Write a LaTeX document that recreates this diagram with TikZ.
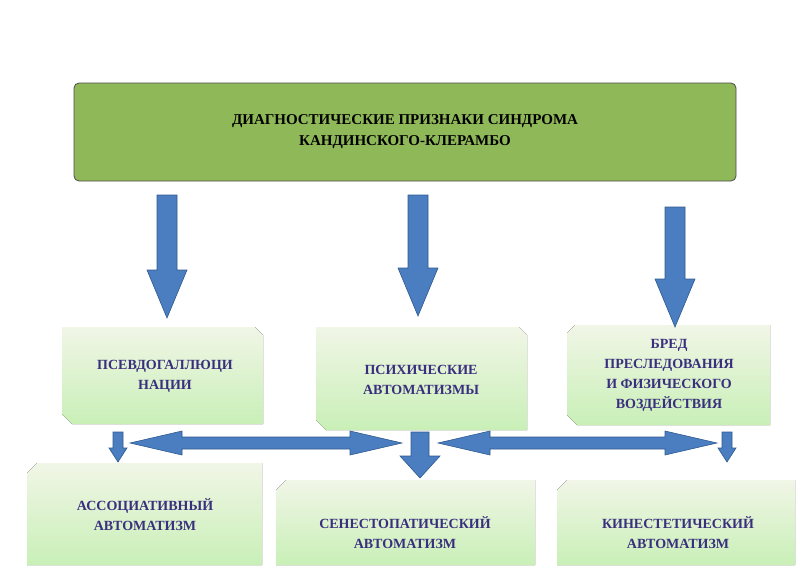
\documentclass[tikz,border=0pt]{standalone}
\usepackage{fontspec}
\setmainfont{Liberation Serif}
\usetikzlibrary{shapes.misc}
\definecolor{arrblue}{HTML}{4A7EC0}
\definecolor{arredge}{HTML}{2F5A8E}
\definecolor{txtpur}{HTML}{3A2F7E}
\definecolor{topgreen}{HTML}{8FB858}
\definecolor{boxg}{HTML}{DCE8C2}
\newcommand\mydown[6]{% x, ytop, ybot, half shaft, half head, head length
  \fill[arrblue,draw=arredge,line width=0.6pt] (#1-#4,-#2) -- (#1+#4,-#2) -- (#1+#4,-#3+#6) -- (#1+#5,-#3+#6) -- (#1,-#3) -- (#1-#5,-#3+#6) -- (#1-#4,-#3+#6) -- cycle;}
\newcommand\mydbl[6]{% xl, xr, y, half shaft, half head, head len
  \fill[arrblue,draw=arredge,line width=0.6pt] (#1,-#3) -- (#1+#6,-#3+#5) -- (#1+#6,-#3+#4) -- (#2-#6,-#3+#4) -- (#2-#6,-#3+#5) -- (#2,-#3) -- (#2-#6,-#3-#5) -- (#2-#6,-#3-#4) -- (#1+#6,-#3-#4) -- (#1+#6,-#3-#5) -- cycle;}
\begin{document}
\begin{tikzpicture}[x=1pt,y=1pt,
  sub/.style={font=\bfseries\fontsize{14}{20}\selectfont, text=txtpur, align=center},
  gbox/.style={top color=white!60!boxg, bottom color=boxg!85!green!80!white, draw=none}]
\useasboundingbox (0,0) rectangle (800,-565);
\clip (0,0) rectangle (800,-565);
% top box
\draw[fill=topgreen, draw=black!70, line width=0.8pt, rounded corners=5pt] (74,-83) rectangle (736,-181);
\node[font=\bfseries\fontsize{15}{21}\selectfont, align=center] (top) at (405,-132) {ДИАГНОСТИЧЕСКИЕ ПРИЗНАКИ СИНДРОМА\\КАНДИНСКОГО-КЛЕРАМБО};
% boxes row 2
\fill[gbox] (62,-327) -- (255,-327) -- (263,-335) -- (263,-424) -- (72,-424) -- (62,-414) -- cycle;
\fill[gbox] (316,-327) -- (519,-327) -- (527,-335) -- (527,-430) -- (326,-430) -- (316,-420) -- cycle;
\fill[gbox] (575,-325) -- (770,-325) -- (770,-425) -- (577,-425) -- (567,-415) -- (567,-333) -- cycle;
\node[sub] (a) at (165,-376) {ПСЕВДОГАЛЛЮЦИ\\НАЦИИ};
\node[sub] (b) at (421,-380) {ПСИХИЧЕСКИЕ\\АВТОМАТИЗМЫ};
\node[sub] (c) at (669,-375) {БРЕД\\ПРЕСЛЕДОВАНИЯ\\И ФИЗИЧЕСКОГО\\ВОЗДЕЙСТВИЯ};
% bottom boxes
\fill[gbox] (37,-463) -- (262,-463) -- (262,-565) -- (27,-565) -- (27,-473) -- cycle;
\fill[gbox] (286,-480) -- (535,-480) -- (535,-565) -- (276,-565) -- (276,-490) -- cycle;
\fill[gbox] (567,-480) -- (795,-480) -- (795,-565) -- (557,-565) -- (557,-490) -- cycle;
\node[sub] (d) at (145,-515) {АССОЦИАТИВНЫЙ\\АВТОМАТИЗМ};
\node[sub] (e) at (405,-533) {СЕНЕСТОПАТИЧЕСКИЙ\\АВТОМАТИЗМ};
\node[sub] (f) at (678,-533) {КИНЕСТЕТИЧЕСКИЙ\\АВТОМАТИЗМ};
% arrows
\mydown{167}{195}{318}{10}{20}{48}
\mydown{418}{195}{316}{10}{20}{48}
\mydown{675}{207}{327}{10}{20}{48}
\mydown{118}{432}{462}{5}{9}{14}
\mydown{420}{432}{478}{9}{20}{22}
\mydown{727}{432}{462}{5}{9}{14}
\mydbl{130}{402}{443}{6}{12}{52}
\mydbl{438}{717}{443}{6}{12}{52}
\end{tikzpicture}
\end{document}
